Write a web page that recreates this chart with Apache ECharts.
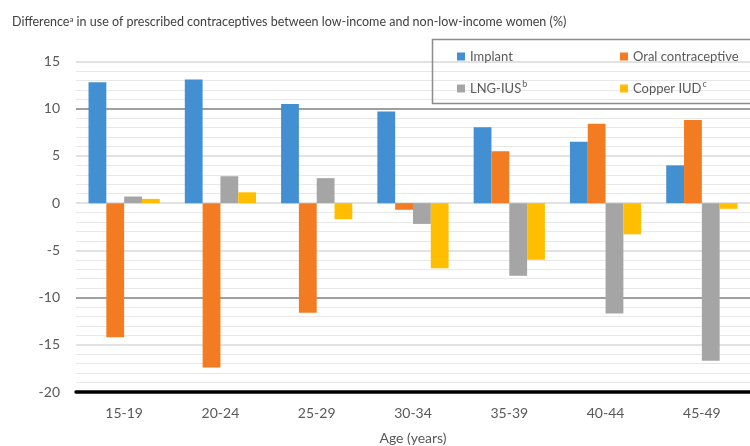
<!DOCTYPE html>
<html>
<head>
<meta charset="utf-8">
<script src="https://cdn.jsdelivr.net/npm/echarts@6/dist/echarts.min.js"></script>
<style>html,body{margin:0;padding:0;background:#fff}#c{width:750px;height:446px}</style>
</head>
<body>
<div id="c"></div>
<script>
var categories = ['15-19', '20-24', '25-29', '30-34', '35-39', '40-44', '45-49'];
var implant = [12.8, 13.1, 10.5, 9.7, 8.05, 6.5, 4.0];
var oral = [-14.2, -17.4, -11.6, -0.7, 5.5, 8.4, 8.8];
var lngIus = [0.7, 2.85, 2.65, -2.2, -7.7, -11.7, -16.7];
var copper = [0.45, 1.15, -1.7, -6.9, -6.0, -3.3, -0.6];
var seriesNames = ['Implant', 'Oral contraceptive', 'LNG-IUS', 'Copper IUD'];
var superscripts = {'LNG-IUS': 'b', 'Copper IUD': 'c'};
var colors = ['#4290D2', '#F37B22', '#A5A5A5', '#FFBF00'];

var FONT = 'Lato';
var chart = echarts.init(document.getElementById('c'), null, {renderer: 'canvas'});

function legendFmt(name) {
  var s = superscripts[name];
  return s ? '{n|' + name + '}{s|' + s + '}' : '{n|' + name + '}';
}
var legendText = {
  color: '#595959', fontFamily: FONT, fontSize: 13,
  rich: {
    n: {color: '#595959', fontFamily: FONT, fontSize: 13},
    s: {color: '#595959', fontFamily: FONT, fontSize: 9, verticalAlign: 'top', padding: [0, 0, 8, 1]}
  }
};

function mk(i, data) {
  return {
    name: seriesNames[i], type: 'bar', data: data,
    barGap: '0%', barCategoryGap: '26%',
    itemStyle: {color: colors[i]}
  };
}

chart.setOption({
  animation: false,
  color: colors,
  title: {
    text: '{t|Difference}{s|a}{t| in use of prescribed contraceptives between low-income and non-low-income women (%)}',
    left: 7, top: 10,
    textStyle: {
      fontWeight: 'normal',
      rich: {
        t: {color: '#404040', fontFamily: FONT, fontSize: 12.5, fontWeight: 'normal'},
        s: {color: '#404040', fontFamily: FONT, fontSize: 8, fontWeight: 'normal', verticalAlign: 'top', padding: [0, 0, 6, 0]}
      }
    }
  },
  graphic: [{
    type: 'rect', shape: {x: 432.5, y: 39.5, width: 330, height: 64},
    style: {fill: 'none', stroke: '#8c8c8c', lineWidth: 1.5}, z: 10
  }],
  legend: [{
    data: ['Implant', 'LNG-IUS'], orient: 'vertical', left: 452, top: 45,
    itemWidth: 8, itemHeight: 8, icon: 'rect', itemGap: 17,
    formatter: legendFmt, textStyle: legendText
  }, {
    data: ['Oral contraceptive', 'Copper IUD'], orient: 'vertical', left: 615, top: 45,
    itemWidth: 8, itemHeight: 8, icon: 'rect', itemGap: 17,
    formatter: legendFmt, textStyle: legendText
  }],
  grid: {left: 76, right: 0, top: 61.5, bottom: 54, containLabel: false, outerBoundsMode: 'none'},
  xAxis: {
    type: 'category', data: categories,
    name: 'Age (years)', nameLocation: 'middle', nameGap: 39,
    nameTextStyle: {color: '#595959', fontFamily: FONT, fontSize: 14},
    axisLine: {onZero: false, lineStyle: {color: '#000', width: 3.5}},
    axisTick: {show: false},
    axisLabel: {color: '#595959', fontFamily: FONT, fontSize: 14, margin: 14}
  },
  yAxis: {
    type: 'value', min: -20, max: 15, interval: 5,
    axisLine: {show: false}, axisTick: {show: false},
    axisLabel: {color: '#595959', fontFamily: FONT, fontSize: 14, margin: 16},
    splitLine: {lineStyle: {color: ['#D9D9D9', '#D9D9D9', '#7F7F7F', '#D9D9D9'], width: 1.5}},
    minorTick: {show: false, splitNumber: 5},
    minorSplitLine: {show: true, lineStyle: {color: '#E8E8E8', width: 1}}
  },
  series: [mk(0, implant), mk(1, oral), mk(2, lngIus), mk(3, copper)]
});
</script>
</body>
</html>
